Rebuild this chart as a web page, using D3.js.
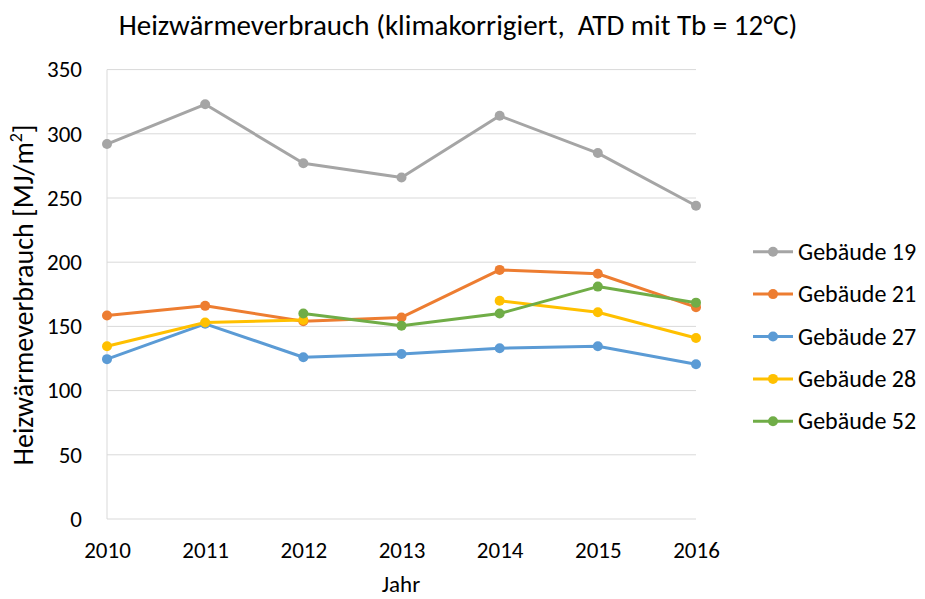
<!DOCTYPE html>
<meta charset="utf-8">
<style>
  body { margin: 0; background: #fff; }
  text { font-family: Carlito, Calibri, Lato, sans-serif; fill: #000; }
  .grid line { stroke: #d9d9d9; stroke-width: 1px; }
  .axis path, .axis line { stroke: none; }
</style>
<body>
<div id="chart"></div>
<script src="https://d3js.org/d3.v7.js"></script>
<script>
  const years = [2010, 2011, 2012, 2013, 2014, 2015, 2016];
  const yTicks = [0, 50, 100, 150, 200, 250, 300, 350];

  const geb19 = [292, 323, 277, 266, 314, 285, 244];
  const geb21 = [158.5, 166, 154, 157, 194, 191, 165];
  const geb27 = [124.5, 152, 126, 128.5, 133, 134.5, 120.5];
  const geb28 = [134.5, 153, 155, null, 170, 161, 141];
  const geb52 = [null, null, 160, 150.5, 160, 181, 168.5];

  const seriesNames = ["Gebäude 19", "Gebäude 21", "Gebäude 27", "Gebäude 28", "Gebäude 52"];
  const seriesColors = ["#a5a5a5", "#ed7d31", "#5b9bd5", "#ffc000", "#70ad47"];
  const seriesValues = [geb19, geb21, geb27, geb28, geb52];

  const width = 925, height = 599;
  const plotLeft = 107, plotRight = 696, plotTop = 69.6, plotBottom = 519;

  const svg = d3.select("#chart").append("svg")
    .attr("width", width)
    .attr("height", height);

  const x = d3.scaleLinear().domain([2010, 2016]).range([plotLeft, plotRight]);
  const y = d3.scaleLinear().domain([0, 350]).range([plotBottom, plotTop]);

  // horizontal gridlines
  svg.append("g").attr("class", "grid")
    .selectAll("line")
    .data(yTicks.slice(1))
    .join("line")
    .attr("x1", plotLeft).attr("x2", plotRight)
    .attr("y1", d => y(d)).attr("y2", d => y(d));

  // axis lines (left + bottom)
  svg.append("line")
    .attr("x1", plotLeft).attr("x2", plotLeft)
    .attr("y1", plotTop).attr("y2", plotBottom)
    .attr("stroke", "#d9d9d9");
  svg.append("line")
    .attr("x1", plotLeft).attr("x2", plotRight)
    .attr("y1", plotBottom).attr("y2", plotBottom)
    .attr("stroke", "#d9d9d9");

  // y tick labels
  const yAxis = svg.append("g").attr("class", "axis")
    .attr("transform", `translate(${plotLeft},0)`)
    .call(d3.axisLeft(y).tickValues(yTicks).tickSize(0).tickPadding(25));
  yAxis.attr("font-family", null).attr("font-size", null);
  yAxis.selectAll("text").style("font-size", "23px");

  // x tick labels
  const xAxis = svg.append("g").attr("class", "axis")
    .attr("transform", `translate(0,${plotBottom})`)
    .call(d3.axisBottom(x).tickValues(years).tickFormat(d3.format("d")).tickSize(0).tickPadding(23));
  xAxis.attr("font-family", null).attr("font-size", null);
  xAxis.selectAll("text").style("font-size", "23px");

  // title
  svg.append("text")
    .attr("x", 458).attr("y", 35)
    .attr("text-anchor", "middle")
    .style("font-size", "29px")
    .style("white-space", "pre")
    .text("Heizwärmeverbrauch (klimakorrigiert,  ATD mit Tb = 12°C)");

  // axis titles
  svg.append("text")
    .attr("x", 401).attr("y", 592)
    .attr("text-anchor", "middle")
    .style("font-size", "23px")
    .text("Jahr");

  const yTitle = svg.append("text")
    .attr("transform", "translate(33,295) rotate(-90)")
    .attr("text-anchor", "middle")
    .style("font-size", "28px");
  yTitle.append("tspan").text("Heizwärmeverbrauch [MJ/m");
  yTitle.append("tspan").attr("baseline-shift", "super").style("font-size", "18px").text("2");
  yTitle.append("tspan").text("]");

  // lines and markers
  const line = d3.line()
    .defined(d => d != null)
    .x((d, i) => x(years[i]))
    .y(d => y(d));

  seriesValues.forEach((vals, s) => {
    const g = svg.append("g");
    g.append("path")
      .datum(vals)
      .attr("d", line)
      .attr("fill", "none")
      .attr("stroke", seriesColors[s])
      .attr("stroke-width", 3)
      .attr("stroke-linejoin", "round");
    g.selectAll("circle")
      .data(vals.map((v, i) => ({ v, i })).filter(d => d.v != null))
      .join("circle")
      .attr("cx", d => x(years[d.i]))
      .attr("cy", d => y(d.v))
      .attr("r", 5)
      .attr("fill", seriesColors[s]);
  });

  // legend
  const legend = svg.append("g");
  seriesNames.forEach((name, s) => {
    const ly = 251.7 + s * 42.4;
    legend.append("line")
      .attr("x1", 753).attr("x2", 793)
      .attr("y1", ly).attr("y2", ly)
      .attr("stroke", seriesColors[s])
      .attr("stroke-width", 3);
    legend.append("circle")
      .attr("cx", 773).attr("cy", ly).attr("r", 5)
      .attr("fill", seriesColors[s]);
    legend.append("text")
      .attr("x", 798).attr("y", ly + 8)
      .style("font-size", "24px")
      .text(name);
  });
</script>
</body>
</html>
